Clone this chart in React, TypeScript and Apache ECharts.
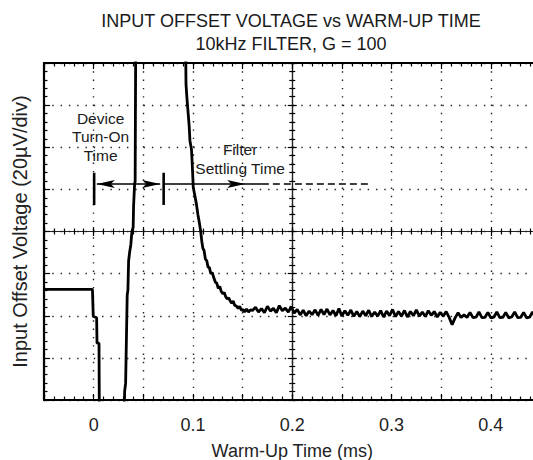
import React, { useEffect, useRef } from "react";
import * as echarts from "echarts";

const titleLines = ["INPUT OFFSET VOLTAGE vs WARM-UP TIME", "10kHz FILTER, G = 100"];
const xAxisName = "Warm-Up Time (ms)";
const yAxisName = "Input Offset Voltage (20µV/div)";
const xTickLabels = ["0", "0.1", "0.2", "0.3", "0.4"];
const xRange = [-0.05, 0.45]; // ms, 10 divisions of 0.05 ms
const xDiv = 0.05;
const yRange = [-80, 80]; // µV, 8 divisions of 20 µV
const yDiv = 20;

// trace: [time (ms), offset (µV)]
const baseline = [
  [-0.05, -27.5], [-0.0012, -27.5],
];
const turnOn = [
  [-0.0004, -40.2], [0.0012, -40.6], [0.003, -41.0], [0.0034, -53.0], [0.0054, -53.0],
  [0.0058, -95], [0.0306, -95], [0.0312, -76], [0.0322, -72], [0.0338, -30],
  [0.0345, -28], [0.0352, -14], [0.0362, -10], [0.0375, -6], [0.0385, 0],
  [0.0398, 2], [0.0402, 12], [0.0412, 22], [0.0418, 24], [0.0424, 95], [0.0925, 95],
];
const filterDecay = [
  [0.093, 70], [0.094, 63], [0.0952, 56], [0.0962, 50], [0.097, 43], [0.0985, 39],
  [0.0992, 33], [0.1003, 21], [0.1015, 18], [0.1035, 13], [0.105, 8], [0.1065, 4],
  [0.1078, 0], [0.109, -5], [0.11, -8], [0.1112, -9], [0.1125, -13], [0.114, -14],
  [0.1152, -17], [0.1165, -17], [0.118, -20], [0.1195, -19.5], [0.121, -22],
  [0.1225, -24], [0.124, -24.5], [0.1255, -27], [0.127, -26], [0.1285, -28.5],
  [0.13, -29.5], [0.1315, -29], [0.133, -31], [0.1345, -32], [0.136, -31.5],
  [0.1375, -33], [0.139, -34], [0.1405, -33], [0.142, -35], [0.144, -35.5],
  [0.1455, -36.5], [0.147, -35.5], [0.149, -37.5], [0.1505, -37], [0.152, -38.2],
  [0.154, -36.8], [0.156, -38.2], [0.158, -37.2],
];
const settled = [
  [0.16, -37.5], [0.163, -36.0], [0.166, -38.2], [0.169, -36.6], [0.172, -38.5],
  [0.175, -35.5], [0.178, -37.8], [0.181, -36.5], [0.184, -38.6], [0.187, -35.2],
  [0.19, -37.6], [0.193, -36.4], [0.196, -38.3], [0.199, -35.6], [0.202, -38.8],
  [0.205, -37.0], [0.208, -39.6], [0.211, -37.4], [0.214, -40.0], [0.217, -37.8],
  [0.22, -39.5], [0.223, -37.2], [0.226, -39.8], [0.229, -37.0], [0.232, -39.4],
  [0.235, -36.8], [0.238, -39.6], [0.241, -37.5], [0.244, -40.0], [0.247, -36.6],
  [0.25, -40.2], [0.253, -37.6], [0.256, -39.8], [0.259, -37.3], [0.262, -40.3],
  [0.265, -38.0], [0.268, -40.4], [0.271, -37.8], [0.274, -40.0], [0.277, -37.4],
  [0.28, -40.4], [0.283, -38.2], [0.286, -40.2], [0.289, -37.6], [0.292, -40.6],
  [0.295, -37.8], [0.298, -40.0], [0.301, -37.0], [0.304, -40.4], [0.307, -38.0],
  [0.31, -40.2], [0.313, -37.5], [0.316, -40.6], [0.319, -38.0], [0.322, -40.0],
  [0.325, -37.2], [0.328, -40.2], [0.331, -38.2], [0.334, -40.4], [0.337, -37.6],
  [0.34, -39.8], [0.343, -38.0], [0.346, -40.6], [0.349, -38.4], [0.352, -40.2],
  [0.355, -38.0], [0.358, -40.8], [0.361, -44.2], [0.364, -41.0], [0.367, -38.6],
  [0.37, -40.8], [0.373, -39.6], [0.376, -40.8], [0.379, -38.4], [0.382, -40.9],
  [0.385, -40.7], [0.388, -38.2], [0.391, -40.9], [0.394, -40.8], [0.397, -38.4],
  [0.4, -41.0], [0.403, -40.7], [0.406, -38.2], [0.409, -40.9], [0.412, -40.8],
  [0.415, -38.4], [0.418, -41.0], [0.421, -40.6], [0.424, -38.2], [0.427, -40.9],
  [0.43, -40.8], [0.433, -38.4], [0.436, -41.0], [0.439, -40.7], [0.442, -38.2],
  [0.445, -40.9], [0.448, -40.6], [0.45, -38.8],
];

// annotations in data units
const turnOnLabel = { t: 0.007, v: 45, text: "Device\nTurn-On\nTime" };
const settlingLabel = { t: 0.1475, v: 34.4, text: "Filter\nSettling Time" };
const markerBarTimes = [0.0005, 0.0705];
const markerBarSpan = [12.6, 27.9];
const arrowLevel = 22.6;
const turnOnArrowTips = [0.0032, 0.067];
const settlingArrow = { start: 0.0705, tip: 0.1526, solidEnd: 0.1694, dashedEnd: 0.28 };

const FONT = '"Liberation Sans", Arial, Helvetica, sans-serif';
const INK = "#000";

export default function App() {
  const ref = useRef<HTMLDivElement>(null);
  useEffect(() => {
    document.body.style.margin = "0";
    const chart = echarts.init(ref.current!, null, { renderer: "svg" });
    const trace = [...baseline, ...turnOn, ...filterDecay, ...settled];
    const dotted = { color: "#222", width: 1.4, type: [1.4, 6.9] as any };
    const labelFor = (v: number) => {
      const hit = xTickLabels.find((s) => Math.abs(Number(s) - v) < 1e-6);
      return hit ?? "";
    };
    const xBase = {
      type: "value",
      min: xRange[0],
      max: xRange[1],
      interval: xDiv,
      minorTick: { show: true, splitNumber: 5, length: 3.5, lineStyle: { color: INK, width: 1.2 } },
      axisTick: { show: true, inside: true, length: 6, lineStyle: { color: INK, width: 1.2 } },
      splitLine: { show: false },
      axisLabel: { show: false },
    };
    const yBase = {
      type: "value",
      min: yRange[0],
      max: yRange[1],
      interval: yDiv,
      minorTick: { show: true, splitNumber: 5, length: 3.5, lineStyle: { color: INK, width: 1.2 } },
      axisTick: { show: true, inside: true, length: 6, lineStyle: { color: INK, width: 1.2 } },
      splitLine: { show: false },
      axisLabel: { show: false },
    };
    const centerTickX = (inside: boolean) => ({
      ...xBase,
      position: "bottom",
      axisLine: { show: true, onZero: true, onZeroAxisIndex: 0, lineStyle: { color: "#222", width: 1.2 } },
      axisTick: { show: true, inside, length: 4.5, lineStyle: { color: INK, width: 1.2 } },
      minorTick: { show: true, splitNumber: 5, length: 3, lineStyle: { color: INK, width: 1.2 } },
    });
    const centerTickY = (inside: boolean) => ({
      ...yBase,
      position: "left",
      axisLine: { show: true, onZero: true, onZeroAxisIndex: 4, lineStyle: { color: "#222", width: 1.2 } },
      axisTick: { show: true, inside, length: 4.5, lineStyle: { color: INK, width: 1.2 } },
      minorTick: { show: true, splitNumber: 5, length: 3, lineStyle: { color: INK, width: 1.2 } },
    });
    const halfSpan = (xRange[1] - xRange[0]) / 2;
    chart.setOption({
      animation: false,
      title: {
        text: titleLines.join("\n"),
        left: 286,
        top: 4,
        textAlign: "center",
        textStyle: { fontFamily: FONT, fontSize: 18, fontWeight: "normal", color: "#1a1a1a", lineHeight: 23 },
      },
      grid: { left: 44, top: 63, width: 496.5, height: 337, outerBoundsMode: "none", containLabel: false },
      xAxis: [
        {
          ...xBase,
          position: "bottom",
          axisLine: { show: true, onZero: false, lineStyle: { color: INK, width: 2 } },
          splitLine: { show: true, lineStyle: dotted },
          axisLabel: {
            show: true,
            formatter: (v: number) => labelFor(v),
            margin: 16,
            fontFamily: FONT,
            fontSize: 18,
            color: "#222",
          },
          name: xAxisName,
          nameLocation: "middle",
          nameGap: 42,
          nameTextStyle: { fontFamily: FONT, fontSize: 18, color: "#222" },
        },
        {
          ...xBase,
          position: "top",
          axisLine: { show: true, onZero: false, lineStyle: { color: INK, width: 2 } },
        },
        centerTickX(true),
        centerTickX(false),
        {
          type: "value",
          show: false,
          min: -halfSpan,
          max: halfSpan,
          axisLine: { onZero: false },
        },
      ],
      yAxis: [
        {
          ...yBase,
          position: "left",
          axisLine: { show: true, onZero: false, lineStyle: { color: INK, width: 2.2 } },
          splitLine: { show: true, lineStyle: dotted },
          name: yAxisName,
          nameLocation: "middle",
          nameGap: 14,
          nameTextStyle: { fontFamily: FONT, fontSize: 20, color: "#222" },
        },
        centerTickY(true),
        centerTickY(false),
      ],
      series: [
        {
          type: "line",
          xAxisIndex: 0,
          yAxisIndex: 0,
          data: trace,
          showSymbol: false,
          symbol: "none",
          clip: true,
          lineStyle: { color: INK, width: 2.8 },
          z: 5,
        },
      ],
    });

    const px = (t: number, v: number) => chart.convertToPixel({ seriesIndex: 0 }, [t, v]) as number[];
    const lineEl = (a: number[], b: number[], w: number, dash?: number[]) => ({
      type: "line",
      shape: { x1: a[0], y1: a[1], x2: b[0], y2: b[1] },
      style: { stroke: INK, lineWidth: w, lineDash: dash },
      z: 20,
    });
    const ARROW_LEN = 18;
    const ARROW_HW = 4;
    const head = (tip: number[], dir: number) => ({
      type: "polygon",
      shape: {
        points: [
          [tip[0], tip[1]],
          [tip[0] - dir * ARROW_LEN, tip[1] - ARROW_HW],
          [tip[0] - dir * ARROW_LEN + dir * 4, tip[1]],
          [tip[0] - dir * ARROW_LEN, tip[1] + ARROW_HW],
        ],
      },
      style: { fill: INK },
      z: 21,
    });
    const textEl = (lbl: { t: number; v: number; text: string }) => {
      const p = px(lbl.t, lbl.v);
      return {
        type: "text",
        x: p[0],
        y: p[1],
        style: {
          text: lbl.text,
          fill: "#1a1a1a",
          font: `15.5px ${FONT}`,
          lineHeight: 18.5,
          align: "center",
          verticalAlign: "middle",
          textAlign: "center",
          textVerticalAlign: "middle",
        },
        z: 22,
      };
    };
    const els: any[] = [];
    markerBarTimes.forEach((t) => {
      els.push(lineEl(px(t, markerBarSpan[0]), px(t, markerBarSpan[1]), 2.6));
    });
    const lTip = px(turnOnArrowTips[0], arrowLevel);
    const rTip = px(turnOnArrowTips[1], arrowLevel);
    els.push(lineEl(lTip, rTip, 1.5));
    els.push(head(lTip, -1));
    els.push(head(rTip, 1));
    const sStart = px(settlingArrow.start, arrowLevel);
    const sTip = px(settlingArrow.tip, arrowLevel);
    const sSolid = px(settlingArrow.solidEnd, arrowLevel);
    const sDash = px(settlingArrow.dashedEnd, arrowLevel);
    els.push(lineEl(sStart, sSolid, 1.5));
    els.push(head(sTip, 1));
    els.push(lineEl(sSolid, sDash, 1.5, [7, 4]));
    els.push(textEl(turnOnLabel));
    els.push(textEl(settlingLabel));
    chart.setOption({ graphic: els });

    return () => chart.dispose();
  }, []);
  return <div ref={ref} style={{ width: 533, height: 460 }} />;
}
